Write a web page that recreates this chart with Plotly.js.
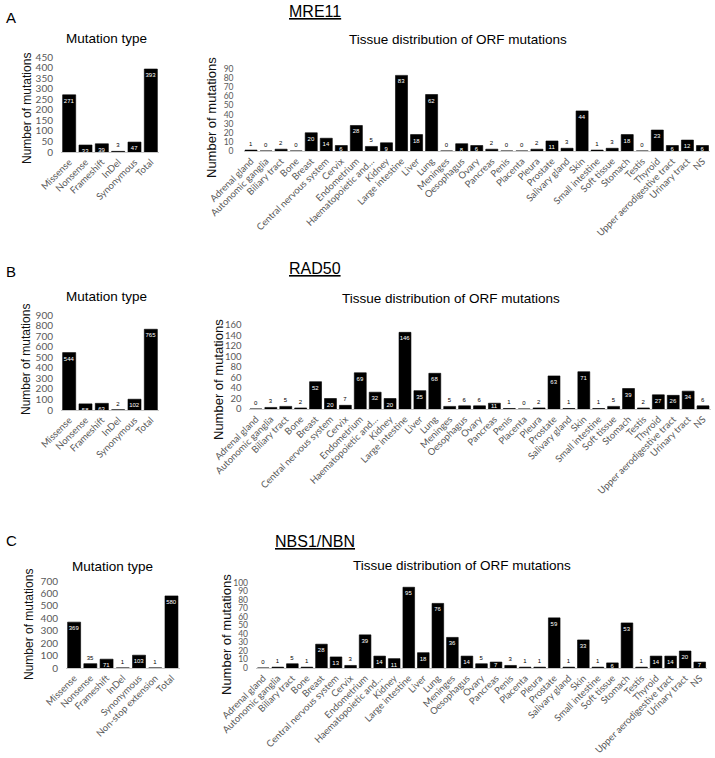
<!DOCTYPE html>
<html>
<head>
<meta charset="utf-8">
<script src="https://cdn.plot.ly/plotly-3.0.1.min.js"></script>
<style>html,body{margin:0;padding:0;background:#fff;}#chart{width:715px;height:758px;}</style>
</head>
<body>
<div id="chart"></div>
<script>
// ---------- DATA ----------
const tissues = ['Adrenal gland','Autonomic ganglia','Biliary tract','Bone','Breast','Central nervous system','Cervix','Endometrium','Haematopoietic and…','Kidney','Large intestine','Liver','Lung','Meninges','Oesophagus','Ovary','Pancreas','Penis','Placenta','Pleura','Prostate','Salivary gland','Skin','Small intestine','Soft tissue','Stomach','Testis','Thyroid','Upper aerodigestive tract','Urinary tract','NS'];

const typesMRE11 = ['Missense','Nonsense','Frameshift','InDel','Synonymous','Total'];
const countsMRE11 = [271,33,39,3,47,393];
const tissueMRE11 = [1,0,2,0,20,14,6,28,5,9,83,18,62,0,8,6,2,0,0,2,11,3,44,1,3,18,0,23,6,12,6];

const typesRAD50 = ['Missense','Nonsense','Frameshift','InDel','Synonymous','Total'];
const countsRAD50 = [544,58,63,2,102,765];
const tissueRAD50 = [0,3,5,2,52,20,7,69,32,20,146,35,68,5,6,6,11,1,0,2,63,1,71,1,5,39,2,27,26,34,6];

const typesNBN = ['Missense','Nonsense','Frameshift','InDel','Synonymous','Non-stop extension','Total'];
const countsNBN = [369,35,71,1,103,1,580];
const tissueNBN = [0,1,5,1,28,13,3,39,14,11,95,18,76,36,14,5,7,3,1,1,59,1,33,1,6,53,1,14,14,20,7];

// ---------- LAYOUT HELPERS ----------
const W = 715, H = 758;
const dx = (a,b) => [a/W, b/W];
const dy = (top,bottom) => [1-bottom/H, 1-top/H];
const TICKGRAY = '#595959';
const TICKFONT = {family:'Lato, "Open Sans", sans-serif', size:9.5, color:TICKGRAY};

function barTrace(xs, ys, xa, ya, ymax){
  const pos = ys.map(v => (v/ymax >= 0.06 ? 'inside' : 'outside'));
  return {
    type:'bar', x:xs, y:ys, xaxis:xa, yaxis:ya,
    marker:{color:'#000', line:{color:'#000', width:0.6}},
    text: ys.map(String), textposition: pos,
    insidetextanchor:'end', constraintext:'none',
    textangle:0,
    insidetextfont:{family:'Liberation Sans, Arial', size:6, color:'#fff'},
    outsidetextfont:{family:'Liberation Sans, Arial', size:6, color:'#000'},
    cliponaxis:false, hoverinfo:'skip', showlegend:false
  };
}

function xAx(dom, anchor){
  return {domain:dom, anchor:anchor, type:'category', tickangle:-45, tickfont:TICKFONT,
    showline:true, linecolor:'#c8c8c8', linewidth:1, ticks:'', showgrid:false, zeroline:false, fixedrange:true};
}
function yAx(dom, anchor, ymax, dt, fs, standoff){
  return {domain:dom, anchor:anchor, range:[0,ymax], dtick:dt,
    tickfont:{family:'Lato, "Open Sans", sans-serif', size:fs, color:TICKGRAY},
    showline:false, ticks:'', showgrid:false, zeroline:false, ticklabelstandoff:standoff, fixedrange:true};
}

const data = [
  barTrace(typesMRE11, countsMRE11, 'x', 'y', 450),
  barTrace(tissues, tissueMRE11, 'x2', 'y2', 90),
  barTrace(typesRAD50, countsRAD50, 'x3', 'y3', 900),
  barTrace(tissues, tissueRAD50, 'x4', 'y4', 160),
  barTrace(typesNBN, countsNBN, 'x5', 'y5', 700),
  barTrace(tissues, tissueNBN, 'x6', 'y6', 100)
];

function ann(text, xpx, ypx, size, opts){
  return Object.assign({text:text, x:xpx/W, y:1-ypx/H, xref:'paper', yref:'paper',
    showarrow:false, xanchor:'center', yanchor:'middle',
    font:{family:'Liberation Sans, Arial', size:size, color:'#000'}}, opts||{});
}
function yTitle(xpx, ypx, size){
  return ann('Number of mutations', xpx, ypx, size, {textangle:-90, borderpad:0, font:{family:'Liberation Sans, Arial', size:size, color:'#111'}});
}

const layout = {
  width:W, height:H, margin:{l:0,r:0,t:0,b:0},
  paper_bgcolor:'#fff', plot_bgcolor:'#fff', bargap:0.2,
  font:{family:'Liberation Sans, Arial'},
  xaxis: xAx(dx(61,159),'y'),       yaxis: yAx(dy(57,152),'x',450,50,10,7),
  xaxis2: xAx(dx(243.5,710),'y2'),  yaxis2: yAx(dy(69,151),'x2',90,10,8.5,9),
  xaxis3: xAx(dx(61,159),'y3'),     yaxis3: yAx(dy(315,410),'x3',900,100,10,7),
  xaxis4: xAx(dx(248.5,710.5),'y4'),yaxis4: yAx(dy(325,409),'x4',160,20,9.5,6),
  xaxis5: xAx(dx(66,179.6),'y5'),   yaxis5: yAx(dy(581,668),'x5',700,100,10,7),
  xaxis6: xAx(dx(256,707),'y6'),    yaxis6: yAx(dy(583,668),'x6',100,10,8.5,7),
  annotations:[
    ann('A', 11, 17, 15),
    ann('B', 11, 272, 15),
    ann('C', 11, 540, 15),
    ann('<u>MRE11</u>', 315, 11, 16),
    ann('<u>RAD50</u>', 315, 268, 16),
    ann('<u>NBS1/NBN</u>', 315, 541, 16),
    ann('Mutation type', 106, 38, 13.5),
    ann('Mutation type', 106, 297, 13.5),
    ann('Mutation type', 112, 566, 13.5),
    ann('Tissue distribution of ORF mutations', 458, 40, 13.5),
    ann('Tissue distribution of ORF mutations', 451, 298, 13.5),
    ann('Tissue distribution of ORF mutations', 462, 565, 13.5),
    yTitle(27, 109, 12),
    yTitle(212, 118, 13),
    yTitle(26, 360, 12),
    yTitle(218, 380, 13),
    yTitle(29, 625, 12),
    yTitle(226, 634, 13)
  ]
};

Plotly.newPlot('chart', data, layout, {displayModeBar:false, staticPlot:true});
</script>
</body>
</html>
